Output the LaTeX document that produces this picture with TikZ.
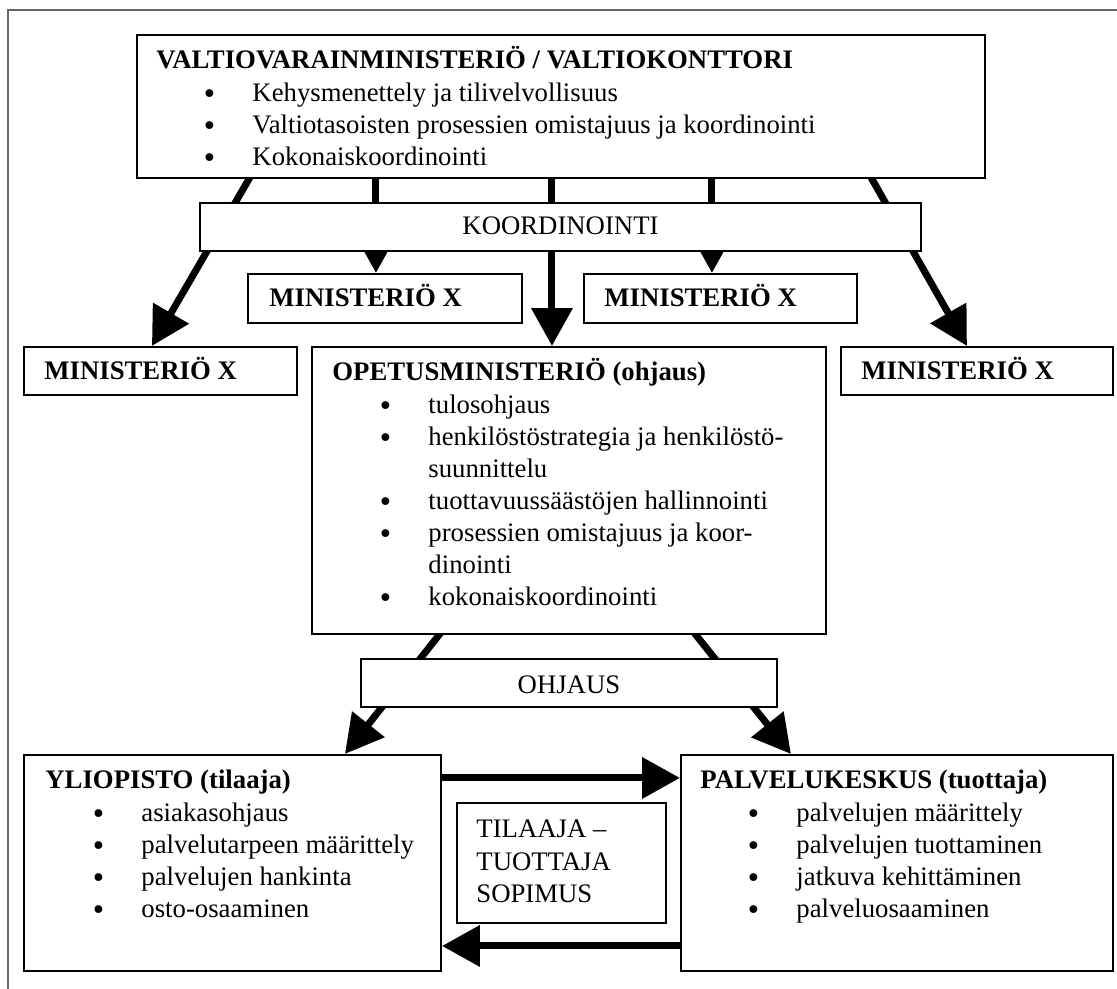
\documentclass[tikz,border=0pt]{standalone}
\usepackage{fontspec}
\setmainfont{Liberation Serif}
\newfontfamily\dotfont{DejaVu Sans}
\usetikzlibrary{arrows.meta,fit,calc}
\pgfdeclarelayer{background}
\pgfsetlayers{background,main}

% bullet line and continuation line of a list inside a box
\newcommand\bigdot{\raisebox{-0.9pt}{\dotfont •}}
\newcommand\bpoint[1]{\hspace*{22.8pt}\makebox[0pt]{\bigdot}\hspace*{18.5pt}#1}
\newcommand\bcont[1]{\hspace*{41.3pt}#1}

\begin{document}
\begin{tikzpicture}[x=0.43pt,y=-0.43pt,
  box/.style={draw,line width=0.9pt,fill=white,inner sep=0pt},
  txt/.style={anchor=base west,inner sep=0pt,font=\fontsize{11.5}{13.8}\selectfont},
  ctxt/.style={anchor=base,inner sep=0pt,font=\fontsize{11.5}{13.8}\selectfont},
  flow/.style={line width=3pt,-{Triangle[length=16.3pt,width=17.2pt]}},
  frameline/.style={black!60,line width=0.6pt}]

\useasboundingbox (0,0) rectangle (1117,989);

% page frame
\coordinate (fa) at (1117,10);
\coordinate (fb) at (8,10);
\coordinate (fc) at (8,989);
\draw[frameline] (fa) -- (fb) -- (fc);

% boxes
\node[box,fit={(137,35)(985,178)}] (vm) {};
\node[box,fit={(24,347)(297,395)}] (mx1) {};
\node[box,fit={(312,347)(826,634)}] (opm) {};
\node[box,fit={(841,347)(1113,395)}] (mx4) {};
\node[box,fit={(248,274)(522,323)}] (mx2) {};
\node[box,fit={(584,274)(857,323)}] (mx3) {};
\node[box,fit={(200,203)(921,251)}] (koord) {};
\node[box,fit={(24,755)(441,971)}] (yo) {};
\node[box,fit={(681,755)(1113,971)}] (pk) {};
\node[box,fit={(457,803)(666,923)}] (sop) {};
\node[box,fit={(361,659)(777,707)}] (ohj) {};

% connector end points on the box borders
\coordinate (s1) at ($(vm.south west)+(113,0)$);
\coordinate (e1) at ($(mx1.north west)+(129,0)$);
\coordinate (s2) at ($(vm.south west)+(240,0)$);
\coordinate (e2) at ($(mx2.north west)+(129,0)$);
\coordinate (s3) at ($(vm.south west)+(416,0)$);
\coordinate (e3) at ($(opm.north west)+(241,0)$);
\coordinate (s4) at ($(vm.south west)+(576,0)$);
\coordinate (e4) at ($(mx3.north west)+(129,0)$);
\coordinate (s5) at ($(vm.south west)+(736,0)$);
\coordinate (e5) at ($(mx4.north west)+(127,0)$);
\coordinate (s6) at ($(opm.south west)+(128,0)$);
\coordinate (e6) at ($(yo.north west)+(322,0)$);
\coordinate (s7) at ($(opm.south west)+(385,0)$);
\coordinate (e7) at ($(pk.north west)+(111,0)$);
\coordinate (s8) at ($(yo.north east)+(0,24)$);
\coordinate (e8) at ($(pk.north west)+(0,24)$);
\coordinate (s9) at ($(pk.north west)+(0,192)$);
\coordinate (e9) at ($(yo.north east)+(0,192)$);

% thick arrows, behind the boxes
\begin{pgfonlayer}{background}
  \draw[flow] ($(s1)!-6pt!(e1)$) -- (e1);
  \draw[flow] ($(s2)!-6pt!(e2)$) -- (e2);
  \draw[flow] ($(s3)!-6pt!(e3)$) -- (e3);
  \draw[flow] ($(s4)!-6pt!(e4)$) -- (e4);
  \draw[flow] ($(s5)!-6pt!(e5)$) -- (e5);
  \draw[flow] ($(s6)!-6pt!(e6)$) -- (e6);
  \draw[flow] ($(s7)!-6pt!(e7)$) -- (e7);
  \draw[flow] ($(s8)!-6pt!(e8)$) -- (e8);
  \draw[flow] ($(s9)!-6pt!(e9)$) -- (e9);
\end{pgfonlayer}

% texts
\node[txt] (vmT) at ($(vm.north west)+(20,35)$) {\begin{tabular}[t]{@{}l@{}}
  \textbf{VALTIOVARAINMINISTERIÖ / VALTIOKONTTORI}\\
  \bpoint{Kehysmenettely ja tilivelvollisuus}\\
  \bpoint{Valtiotasoisten prosessien omistajuus ja koordinointi}\\
  \bpoint{Kokonaiskoordinointi}
\end{tabular}};

\node[ctxt] (koordT) at ($(koord.north)+(0,33)$) {KOORDINOINTI};

\node[txt] (mx1T) at ($(mx1.north west)+(21,34)$) {\textbf{MINISTERIÖ X}};
\node[txt] (mx2T) at ($(mx2.north west)+(22,34)$) {\textbf{MINISTERIÖ X}};
\node[txt] (mx3T) at ($(mx3.north west)+(21,34)$) {\textbf{MINISTERIÖ X}};
\node[txt] (mx4T) at ($(mx4.north west)+(21,34)$) {\textbf{MINISTERIÖ X}};

\node[txt] (opmT) at ($(opm.north west)+(21,35)$) {\begin{tabular}[t]{@{}l@{}}
  \textbf{OPETUSMINISTERIÖ (ohjaus)}\\
  \bpoint{tulosohjaus}\\
  \bpoint{henkilöstöstrategia ja henkilöstö-}\\
  \bcont{suunnittelu}\\
  \bpoint{tuottavuussäästöjen hallinnointi}\\
  \bpoint{prosessien omistajuus ja koor-}\\
  \bcont{dinointi}\\
  \bpoint{kokonaiskoordinointi}
\end{tabular}};

\node[ctxt] (ohjT) at ($(ohj.north)+(0,36)$) {OHJAUS};

\node[txt] (yoT) at ($(yo.north west)+(22,35)$) {\begin{tabular}[t]{@{}l@{}}
  \textbf{YLIOPISTO (tilaaja)}\\
  \bpoint{asiakasohjaus}\\
  \bpoint{palvelutarpeen määrittely}\\
  \bpoint{palvelujen hankinta}\\
  \bpoint{osto-osaaminen}
\end{tabular}};

\node[txt] (pkT) at ($(pk.north west)+(20,35)$) {\begin{tabular}[t]{@{}l@{}}
  \textbf{PALVELUKESKUS (tuottaja)}\\
  \bpoint{palvelujen määrittely}\\
  \bpoint{palvelujen tuottaminen}\\
  \bpoint{jatkuva kehittäminen}\\
  \bpoint{palveluosaaminen}
\end{tabular}};

\node[txt] (sopT) at ($(sop.north west)+(20,36)$) {\begin{tabular}[t]{@{}l@{}}
  TILAAJA --\\
  TUOTTAJA\\
  SOPIMUS
\end{tabular}};

\end{tikzpicture}
\end{document}
